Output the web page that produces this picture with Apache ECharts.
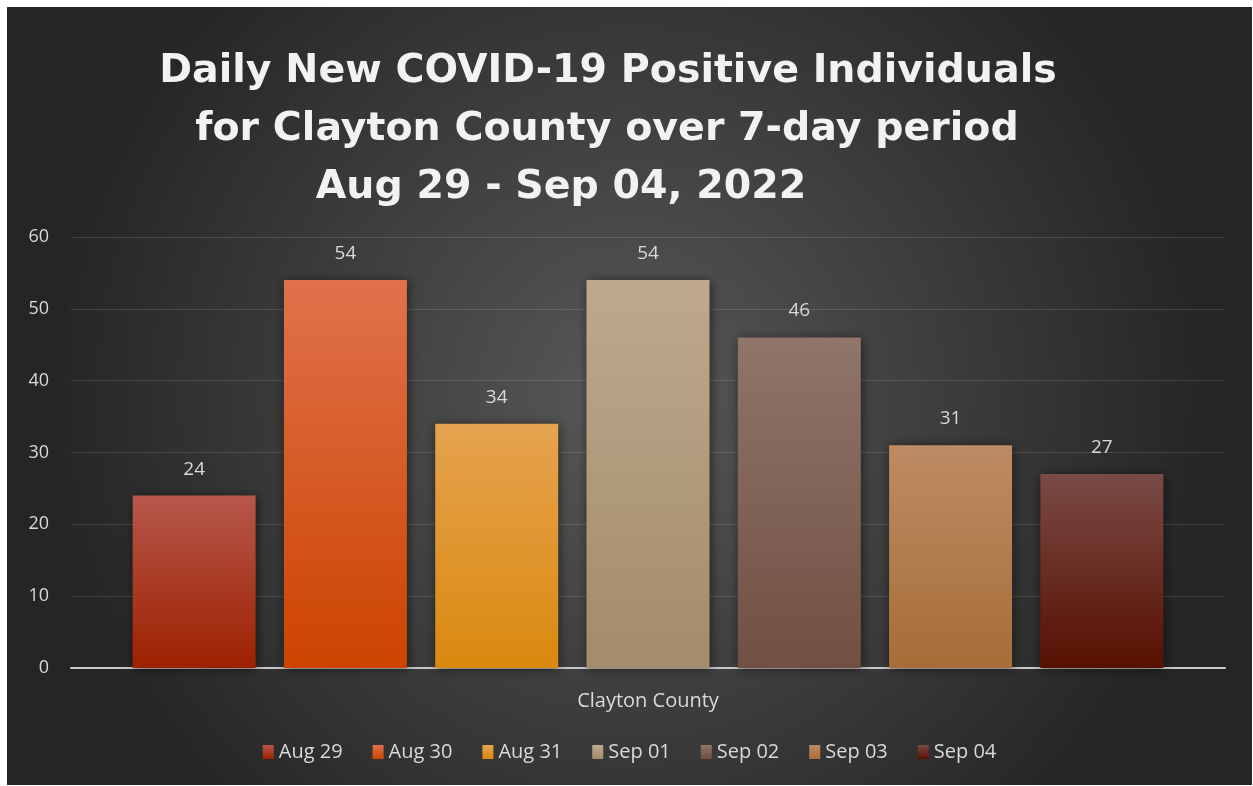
<!DOCTYPE html>
<html>
<head>
<meta charset="utf-8">
<script src="https://cdn.jsdelivr.net/npm/echarts@6/dist/echarts.min.js"></script>
<style>
  html, body { margin: 0; padding: 0; background: #fff; }
  #chart { position: absolute; left: 7px; top: 7px; width: 1245px; height: 778px; }
</style>
</head>
<body>
<div id="chart"></div>
<script>
const categories = ['Clayton County']
const seriesNames = ['Aug 29', 'Aug 30', 'Aug 31', 'Sep 01', 'Sep 02', 'Sep 03', 'Sep 04']
const seriesValues = [24, 54, 34, 54, 46, 31, 27]
const titleLines = [
  'Daily New COVID-19 Positive Individuals',
  'for Clayton County over 7-day period',
  'Aug 29 - Sep 04, 2022',
]

// top / bottom colour of each bar gradient
const barColors = [
  ['#b6574b', '#9d2100'],
  ['#e1714c', '#cc4400'],
  ['#e6a34f', '#da890f'],
  ['#bea98e', '#a38c6b'],
  ['#8f756a', '#724f43'],
  ['#bd8b64', '#a76d37'],
  ['#7a4a46', '#581000'],
]

const chart = echarts.init(document.getElementById('chart'))

const font = '"Open Sans", "Liberation Sans", sans-serif'
const titleFont = '"DejaVu Sans", "Open Sans", sans-serif'
const textColor = '#d9d9d9'

const titleCenters = [596, 595, 549]
const titleTops = [37, 95, 153]

const option = {
  backgroundColor: new echarts.graphic.RadialGradient(0.5, 0.5, 0.75, [
    { offset: 0, color: '#585858' },
    { offset: 1, color: '#252525' },
  ]),
  title: titleLines.map((t, i) => ({
    text: t,
    left: titleCenters[i],
    top: titleTops[i],
    textAlign: 'center',
    textStyle: {
      color: '#f2f2f2',
      fontFamily: titleFont,
      fontWeight: 'bold',
      fontSize: 39.5,
      lineHeight: 46,
    },
  })),
  legend: {
    bottom: 18,
    left: 'center',
    itemWidth: 11,
    itemHeight: 14,
    itemGap: 30,
    icon: 'rect',
    textStyle: { color: textColor, fontFamily: font, fontSize: 20 },
    data: seriesNames,
  },
  grid: {
    left: 64,
    right: 27,
    top: 230,
    bottom: 117,
  },
  xAxis: {
    type: 'category',
    data: categories,
    axisLine: { lineStyle: { color: '#c8c8c8', width: 2 } },
    axisTick: { show: false },
    axisLabel: { color: textColor, fontFamily: font, fontSize: 20, margin: 23 },
  },
  yAxis: {
    type: 'value',
    min: 0,
    max: 60,
    interval: 10,
    axisLine: { show: false },
    axisTick: { show: false },
    splitLine: { lineStyle: { color: 'rgba(255,255,255,0.13)', width: 1 } },
    axisLabel: { color: textColor, fontFamily: font, fontSize: 18, margin: 22 },
  },
  series: seriesNames.map((name, i) => ({
    name,
    type: 'bar',
    barWidth: 123,
    barGap: '23%',
    data: [seriesValues[i]],
    itemStyle: {
      color: new echarts.graphic.LinearGradient(0, 0, 0, 1, [
        { offset: 0, color: barColors[i][0] },
        { offset: 1, color: barColors[i][1] },
      ]),
      shadowColor: 'rgba(0,0,0,0.55)',
      shadowBlur: 10,
      shadowOffsetX: 1,
      shadowOffsetY: 1,
    },
    label: {
      show: true,
      position: 'top',
      distance: 17,
      color: textColor,
      fontFamily: font,
      fontSize: 19,
    },
  })),
  animation: false,
}

chart.setOption(option)
</script>
</body>
</html>
